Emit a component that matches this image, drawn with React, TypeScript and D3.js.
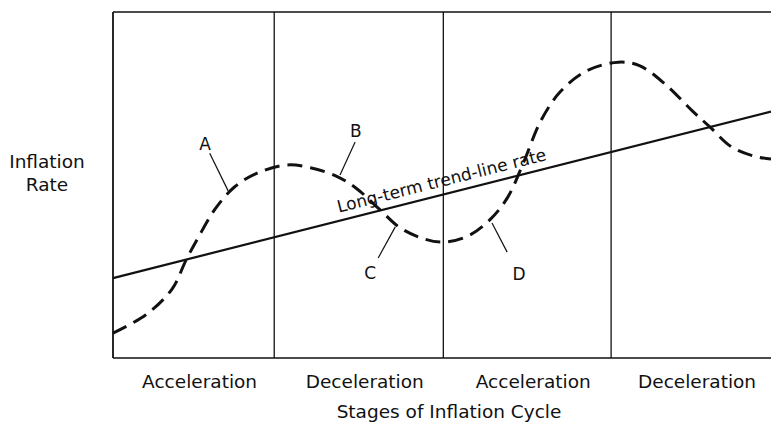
import React from "react";
import * as d3 from "d3";

// Stage boundaries (time units, 0..100 across the plot)
const stageBounds = [0, 24.5, 50.2, 75.7, 100];
const stageLabels = ["Acceleration", "Deceleration", "Acceleration", "Deceleration"];

// Long-term trend (time, rate)
const trendT = [0, 100];
const trendV = [23.1, 71.2];

// Actual inflation rate (dashed curve)
const cycleT = [0, 5, 9, 11.1, 13, 15.5, 18.5, 22, 26.4, 30, 34, 37, 40.6, 43.5, 47, 50.2, 54, 57.3, 60, 62.5, 65, 68, 72, 76.8, 80, 84, 88, 90.7, 94, 97.5, 100];
const cycleV = [7.2, 12.5, 20, 28.3, 35, 43, 49.5, 53.5, 55.8, 55, 52.5, 49, 42.8, 37.8, 34.6, 33.5, 35.3, 40, 46.5, 57, 68.5, 77, 83, 85.5, 84.5, 79, 71.5, 66.8, 61, 58.3, 57.5];

// Point labels: letter, label position, leader start and end (time, rate)
const noteLetters = ["A", "B", "C", "D"];
const noteLabelT = [14.0, 36.9, 39.1, 61.7];
const noteLabelV = [60.1, 63.9, 22.8, 22.5];
const noteFromT = [14.7, 36.8, 40.3, 59.9];
const noteFromV = [59.2, 62.4, 28.9, 30.6];
const noteToT = [17.5, 34.5, 42.9, 57.6];
const noteToV = [48.3, 52.9, 37.9, 39.0];

const trendLabel = "Long-term trend-line rate";
const trendLabelT = 34.6;
const yTitle = ["Inflation", "Rate"];
const xTitle = "Stages of Inflation Cycle";

const W = 771;
const H = 425;
const L = 113, R = 771, T = 12, B = 358;

export default function App() {
  const x = d3.scaleLinear().domain([0, 100]).range([L, R]);
  const y = d3.scaleLinear().domain([0, 100]).range([B, T]);
  const font = "'DejaVu Sans', sans-serif";

  const cyclePts: [number, number][] = cycleT.map((t, i) => [t, cycleV[i]]);
  const cycleLine = d3
    .line<[number, number]>()
    .x((d) => x(d[0]))
    .y((d) => y(d[1]))
    .curve(d3.curveCatmullRom.alpha(0.5))(cyclePts) as string;

  const trendPts: [number, number][] = trendT.map((t, i) => [t, trendV[i]]);
  const trendLine = d3
    .line<[number, number]>()
    .x((d) => x(d[0]))
    .y((d) => y(d[1]))(trendPts) as string;

  const trendAt = (t: number) =>
    trendV[0] + ((trendV[1] - trendV[0]) * (t - trendT[0])) / (trendT[1] - trendT[0]);
  const angle =
    (Math.atan2(y(trendV[1]) - y(trendV[0]), x(trendT[1]) - x(trendT[0])) * 180) / Math.PI;
  const lx = x(trendLabelT);
  const ly = y(trendAt(trendLabelT));

  return (
    <svg width={W} height={H} style={{ display: "block", position: "absolute", left: 0, top: 0, background: "#fff" }}>
      <rect x={0} y={0} width={W} height={H} fill="#fff" />
      {/* frame */}
      <line x1={x(0)} x2={x(100)} y1={y(100)} y2={y(100)} stroke="#111" strokeWidth={1.6} />
      <line x1={x(0)} x2={x(100)} y1={y(0)} y2={y(0)} stroke="#111" strokeWidth={1.6} />
      <line x1={x(0)} x2={x(0)} y1={y(0)} y2={y(100)} stroke="#111" strokeWidth={1.8} />
      {stageBounds.slice(1, -1).map((b, i) => (
        <line key={i} x1={x(b)} x2={x(b)} y1={y(0)} y2={y(100)} stroke="#111" strokeWidth={1.3} />
      ))}
      {/* trend line */}
      <path d={trendLine} fill="none" stroke="#111" strokeWidth={2.2} />
      {/* cycle */}
      <path d={cycleLine} fill="none" stroke="#111" strokeWidth={3} strokeDasharray="15 8" />
      {/* trend label */}
      <text
        x={lx}
        y={ly}
        transform={`rotate(${angle} ${lx} ${ly}) translate(0 -8)`}
        fontFamily={font}
        fontSize={17}
        fill="#111"
      >
        {trendLabel}
      </text>
      {/* notes */}
      {noteLetters.map((l, i) => (
        <g key={l}>
          <line
            x1={x(noteFromT[i])}
            y1={y(noteFromV[i])}
            x2={x(noteToT[i])}
            y2={y(noteToV[i])}
            stroke="#111"
            strokeWidth={1.2}
          />
          <text x={x(noteLabelT[i])} y={y(noteLabelV[i])} textAnchor="middle" fontFamily={font} fontSize={17} fill="#111">
            {l}
          </text>
        </g>
      ))}
      {/* stage labels */}
      {stageLabels.map((s, i) => (
        <text
          key={i}
          x={(x(stageBounds[i]) + x(stageBounds[i + 1])) / 2 + 6}
          y={388}
          textAnchor="middle"
          fontFamily={font}
          fontSize={18.5}
          fill="#111"
        >
          {s}
        </text>
      ))}
      <text x={(L + R) / 2 + 7} y={418} textAnchor="middle" fontFamily={font} fontSize={18.5} fill="#111">
        {xTitle}
      </text>
      {yTitle.map((s, i) => (
        <text key={i} x={47} y={168 + i * 23} textAnchor="middle" fontFamily={font} fontSize={18.5} fill="#111">
          {s}
        </text>
      ))}
    </svg>
  );
}
